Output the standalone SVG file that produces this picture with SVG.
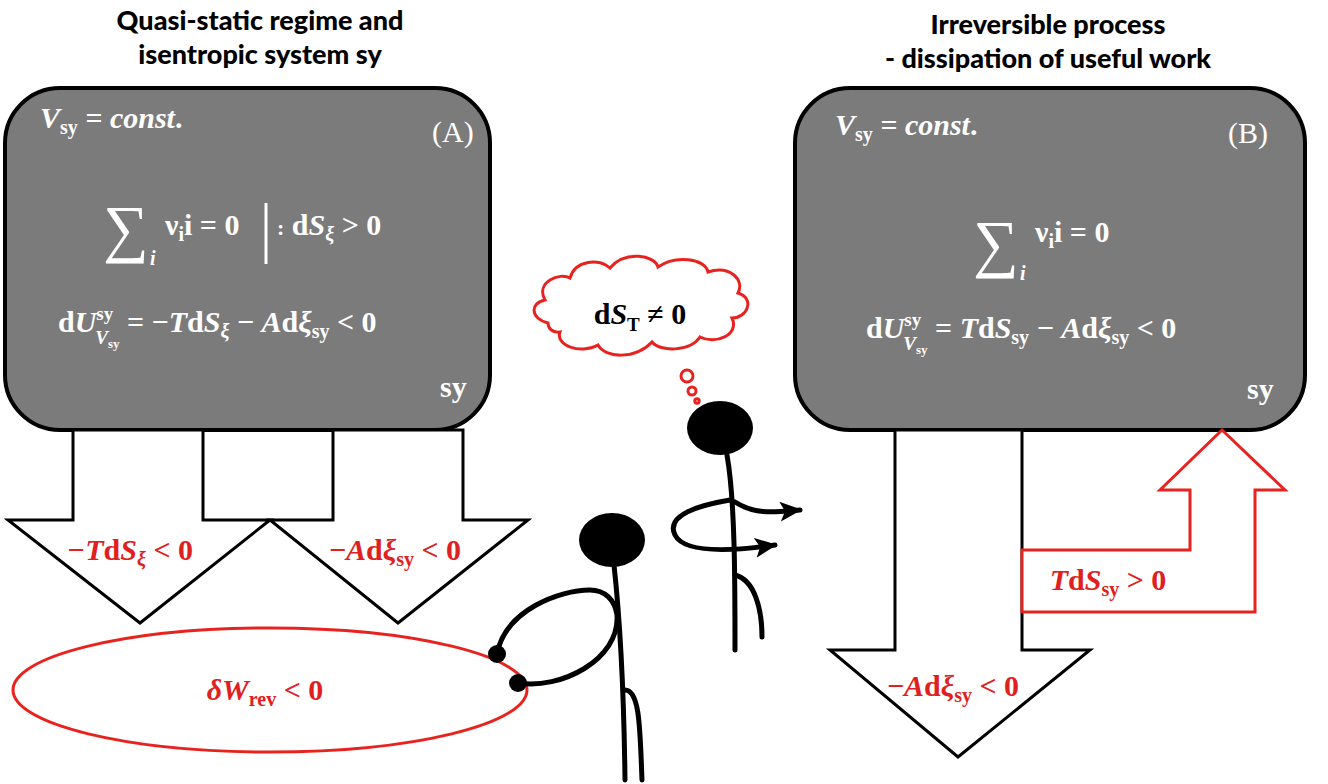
<svg xmlns="http://www.w3.org/2000/svg" width="1328" height="784" viewBox="0 0 1328 784">
<style>
.box{fill:#7b7b7b;stroke:#000;stroke-width:4}
.ttl{font-family:Lato,"Liberation Sans",sans-serif;font-weight:900;font-size:27px;text-anchor:middle}
.m{font-family:"Liberation Serif",serif;font-weight:bold;font-size:30px;fill:#fff}
.r{font-family:"Liberation Serif",serif;font-weight:bold;font-size:30px;fill:#e02020;text-anchor:middle}
.blk{fill:#fff;stroke:#000;stroke-width:3}
.red{fill:#fff;stroke:#e8231f;stroke-width:3}
.fig{fill:none;stroke:#000;stroke-width:5;stroke-linecap:round}
</style>
<defs>
<marker id="ah2" markerWidth="22" markerHeight="20" refX="20" refY="10" orient="auto" markerUnits="userSpaceOnUse"><path d="M0,0L22,10L0,20L5,10z"/></marker></defs>
<text class="ttl" x="260" y="30">Quasi-static regime and</text>
<text class="ttl" x="260" y="64">isentropic system sy</text>
<text class="ttl" x="1048" y="34">Irreversible process</text>
<text class="ttl" x="1048" y="68">- dissipation of useful work</text>
<g id="boxA"><rect class="box" x="5" y="88" width="485" height="342" rx="55"/>
<text class="m" x="40" y="128" font-style="italic">V<tspan font-size="20" dy="6" font-style="normal">sy</tspan><tspan dy="-6"> = const</tspan><tspan font-style="normal">.</tspan></text>
<text class="m" x="432" y="142" style="font-weight:normal">(A)</text>
<text class="m" x="103" y="250" style="font-size:64px;font-weight:normal">∑</text>
<text class="m" x="150" y="265" style="font-size:20px;font-style:italic">i</text>
<text class="m" x="165" y="235">ν<tspan font-size="20" dy="6">i</tspan><tspan dy="-6">i = 0</tspan></text>
<line x1="266" y1="203" x2="266" y2="264" stroke="#fff" stroke-width="3"/>
<text class="m" x="277" y="235"><tspan font-size="22">:</tspan> d<tspan font-style="italic">S</tspan><tspan font-size="20" dy="6" font-style="italic">ξ</tspan><tspan dy="-6"> &gt; 0</tspan></text>
<text class="m" x="58" y="332">d<tspan font-style="italic">U</tspan><tspan font-size="19" dy="-12">sy</tspan><tspan font-size="19" dx="-18" dy="24" font-style="italic">V</tspan><tspan font-size="13" dy="4">sy</tspan><tspan dy="-16"> = −<tspan font-style="italic">T</tspan>d<tspan font-style="italic">S</tspan></tspan><tspan font-size="20" dy="6" font-style="italic">ξ</tspan><tspan dy="-6"> − <tspan font-style="italic">A</tspan>d<tspan font-style="italic">ξ</tspan></tspan><tspan font-size="20" dy="6">sy</tspan><tspan dy="-6"> &lt; 0</tspan></text>
<text class="m" x="440" y="397">sy</text></g>
<g id="boxB"><rect class="box" x="795" y="88" width="510" height="342" rx="55"/>
<text class="m" x="835" y="135" font-style="italic">V<tspan font-size="20" dy="6" font-style="normal">sy</tspan><tspan dy="-6"> = const</tspan><tspan font-style="normal">.</tspan></text>
<text class="m" x="1228" y="143" style="font-weight:normal">(B)</text>
<text class="m" x="973" y="265" style="font-size:64px;font-weight:normal">∑</text>
<text class="m" x="1020" y="280" style="font-size:20px;font-style:italic">i</text>
<text class="m" x="1035" y="242">ν<tspan font-size="20" dy="6">i</tspan><tspan dy="-6">i = 0</tspan></text>
<text class="m" x="866" y="338">d<tspan font-style="italic">U</tspan><tspan font-size="19" dy="-12">sy</tspan><tspan font-size="19" dx="-18" dy="24" font-style="italic">V</tspan><tspan font-size="13" dy="4">sy</tspan><tspan dy="-16"> = <tspan font-style="italic">T</tspan>d<tspan font-style="italic">S</tspan></tspan><tspan font-size="20" dy="6">sy</tspan><tspan dy="-6"> − <tspan font-style="italic">A</tspan>d<tspan font-style="italic">ξ</tspan></tspan><tspan font-size="20" dy="6">sy</tspan><tspan dy="-6"> &lt; 0</tspan></text>
<text class="m" x="1247" y="399">sy</text></g>
<g id="connectors">
<polygon class="blk" points="73,430 203,430 203,520 270,520 140,623 8,520 73,520"/>
<polygon class="blk" points="333,430 463,430 463,520 528,520 398,623 270,520 333,520"/>
<text class="r" x="130" y="560"><tspan font-style="italic">−T</tspan>d<tspan font-style="italic">S</tspan><tspan font-size="20" dy="6" font-style="italic">ξ</tspan><tspan dy="-6"> &lt; 0</tspan></text>
<text class="r" x="395" y="560">−<tspan font-style="italic">A</tspan>d<tspan font-style="italic">ξ</tspan><tspan font-size="20" dy="6">sy</tspan><tspan dy="-6"> &lt; 0</tspan></text>
<polygon class="blk" points="895,430 1022,430 1022,650 1090,650 958,757 830,650 895,650"/>
<text class="r" x="953" y="696">−<tspan font-style="italic">A</tspan>d<tspan font-style="italic">ξ</tspan><tspan font-size="20" dy="6">sy</tspan><tspan dy="-6"> &lt; 0</tspan></text>
<polygon class="red" points="1022,550 1190,550 1190,490 1160,490 1222,430 1285,490 1255,490 1255,612 1022,612"/>
<text class="r" x="1108" y="590"><tspan font-style="italic">T</tspan>d<tspan font-style="italic">S</tspan><tspan font-size="20" dy="6">sy</tspan><tspan dy="-6"> &gt; 0</tspan></text>
</g>
<g id="work"><ellipse class="red" cx="270" cy="690" rx="257" ry="62"/>
<text class="r" x="265" y="700"><tspan font-style="italic">δW</tspan><tspan font-size="20" dy="6">rev</tspan><tspan dy="-6"> &lt; 0</tspan></text></g>
<g id="thought">
<path class="red" d="M548,323 C530,318 530,303 545,300 C535,282 560,272 570,278 C575,260 600,258 610,268 C625,250 655,255 658,267 C675,255 705,258 708,272 C730,265 745,280 738,293 C755,298 748,318 732,318 C740,335 715,345 700,337 C690,352 660,352 652,342 C635,360 605,358 598,345 C580,355 555,345 560,332 C552,333 548,328 548,323 Z"/>
<text x="640" y="324" text-anchor="middle" font-family="Liberation Serif,serif" font-weight="bold" font-size="30">d<tspan font-style="italic">S</tspan><tspan font-size="19" dy="7">T</tspan><tspan dy="-7"> ≠ 0</tspan></text>
<circle class="red" cx="687" cy="376" r="6" stroke-width="2.5"/>
<circle class="red" cx="692" cy="391" r="4" stroke-width="2.5"/>
<circle class="red" cx="697" cy="401" r="2.2" stroke-width="2"/>
</g>
<g id="person1">
<ellipse cx="612" cy="540" rx="33" ry="27"/>
<path class="fig" d="M614,565 C620,620 624,700 625,780"/>
<path class="fig" d="M497,654 C505,610 560,590 590,590 C605,590 615,600 617,615 C620,660 560,690 518,683"/>
<path class="fig" d="M625,690 C640,690 640,730 642,780"/>
<circle cx="497" cy="654" r="9"/><circle cx="518" cy="683" r="9"/>
</g>
<g id="person2">
<ellipse cx="720" cy="428" rx="33" ry="27"/>
<path class="fig" d="M727,455 C735,500 735,580 735,650"/>
<path class="fig" d="M735,575 C755,580 762,610 762,637"/>
<path class="fig" d="M730,500 C700,505 665,515 675,535 C685,555 740,550 775,545" marker-end="url(#ah2)"/>
<path class="fig" d="M735,502 C755,515 775,512 800,510" marker-end="url(#ah2)"/>
</g>
</svg>
